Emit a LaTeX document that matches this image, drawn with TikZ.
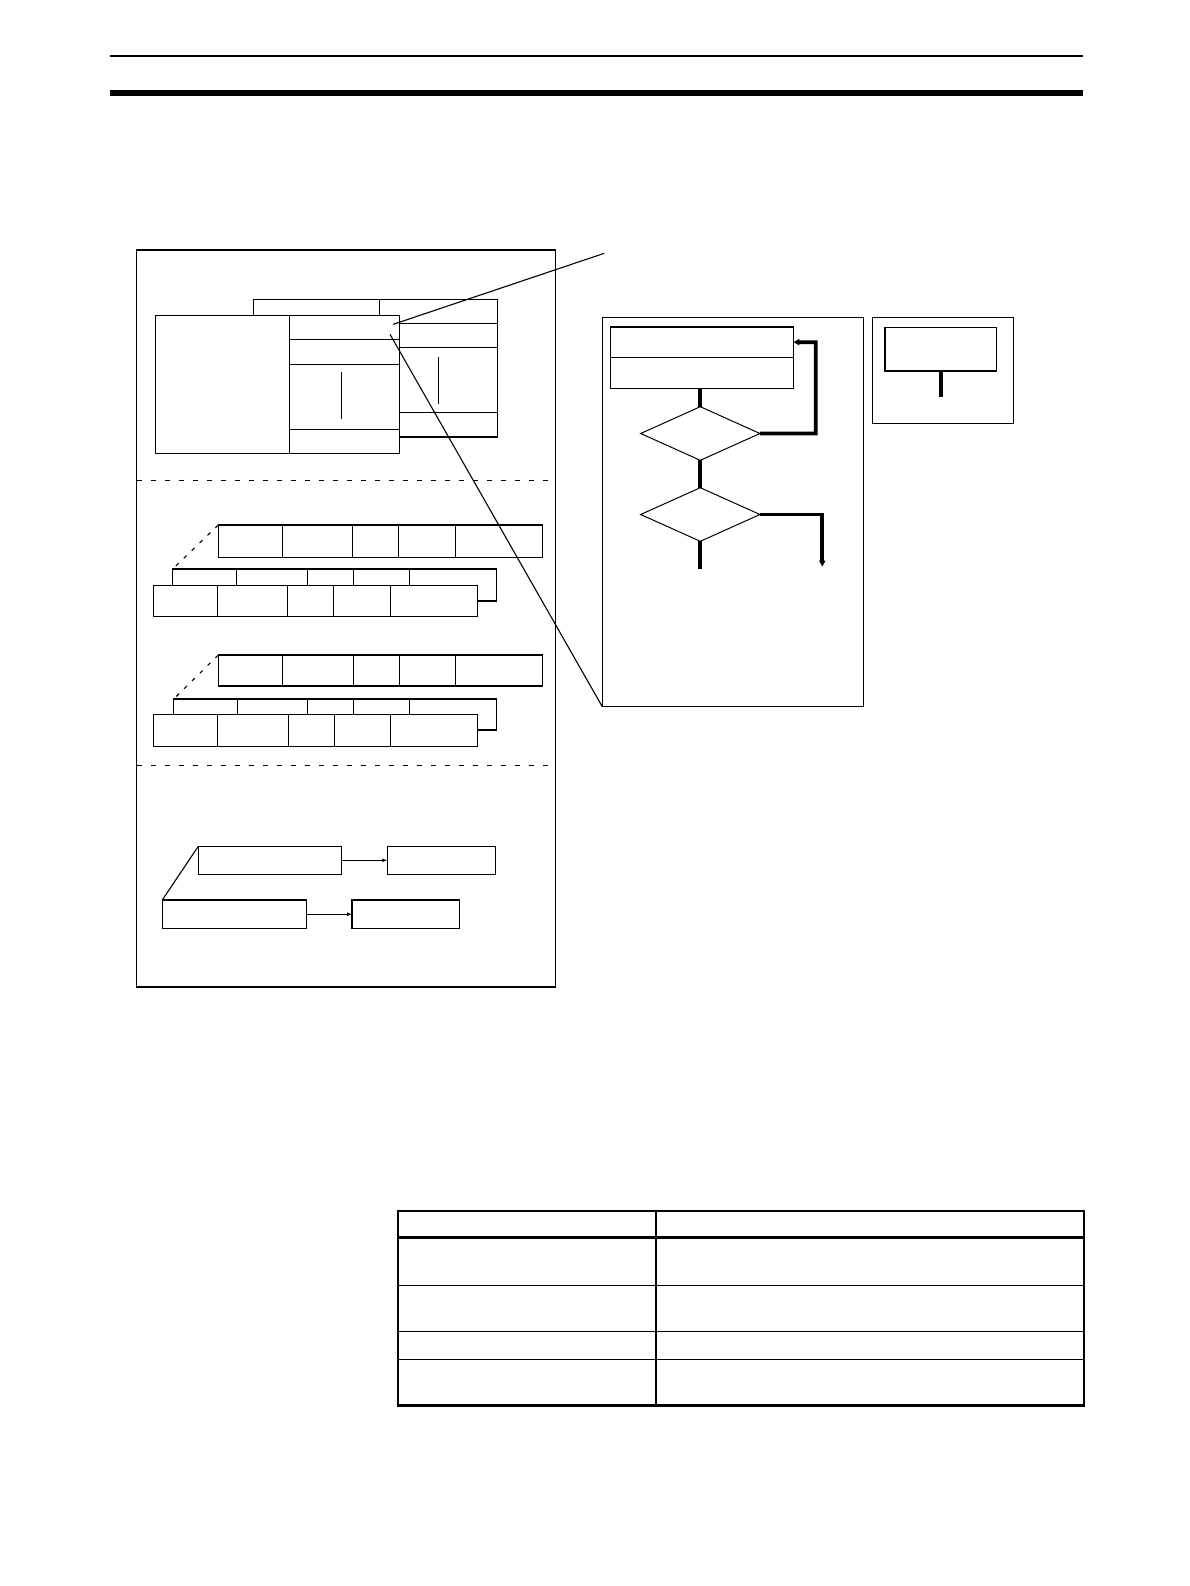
\documentclass[tikz,border=0pt]{standalone}
\usetikzlibrary{shapes.geometric,fit,arrows.meta}
\newcommand{\rbox}[6][]{\node[box,#1,fit={(#3,#4) (#5,#6)}] (#2) {};}
\begin{document}
\begin{tikzpicture}[x=1pt,y=-1pt,
  box/.style={draw, line width=1.2pt, inner sep=0pt, outer sep=0pt, rectangle},
  fineline/.style={line width=1.1pt},
  flowline/.style={line width=3.8pt, draw},
  sepline/.style={line width=1.3pt, dash pattern=on 5pt off 9pt},
  linkdash/.style={line width=1.1pt, dash pattern=on 4pt off 7pt},
  diam/.style={diamond, draw, line width=1pt, inner sep=0pt, outer sep=0pt,
    minimum width=119.3pt, minimum height=53.6pt},
  tip/.style={-{Triangle[length=6pt,width=6pt]}},
  smalltip/.style={-{Latex[length=5pt,width=4pt]}}
]
\useasboundingbox (0,0) rectangle (1190,1586);

% page header rules
\draw[line width=2pt] (110,55.7) -- (1083,55.7);
\fill (110,90) rectangle (1083,95.7);

% left frame
\rbox{frame}{136.7}{250}{555.5}{987}

% top section: back panel
\rbox{bkL}{253.3}{299.3}{379.3}{437}
\rbox{bkR1}{379.3}{299.3}{497.3}{323.3}
\rbox{bkR2}{379.3}{323.3}{497.3}{347.3}
\rbox{bkR3}{379.3}{347.3}{497.3}{412.3}
\rbox{bkR4}{379.3}{412.3}{497.3}{437}
\coordinate (bkv1) at (438.3,357);
\coordinate (bkv2) at (438.3,403.7);
\draw[fineline] (bkv1) -- (bkv2);
% front panel
\rbox[fill=white]{frL}{155.3}{315.3}{289.3}{453.3}
\rbox[fill=white]{frR1}{289.3}{315.3}{399.3}{339.3}
\rbox[fill=white]{frR2}{289.3}{339.3}{399.3}{364.3}
\rbox[fill=white]{frR3}{289.3}{364.3}{399.3}{429.3}
\rbox[fill=white]{frR4}{289.3}{429.3}{399.3}{453.3}
\coordinate (frv1) at (341.3,372.3);
\coordinate (frv2) at (341.3,418.7);
\draw[fineline] (frv1) -- (frv2);

% separators
\draw[sepline] (137,480.3) -- (551.7,480.3);
\draw[sepline] (137,765.7) -- (551.7,765.7);

% rows
\foreach \a/\b/\i in {218.3/282.3/1,282.3/352.3/2,352.3/398.3/3,398.3/455.3/4,455.3/542.3/5}
  \node[box, fit={(\a,525) (\b,557.3)}] (A\i) {};
\foreach \a/\b/\i in {172.7/236.3/1,236.3/307.3/2,307.3/353.3/3,353.3/409.3/4,409.3/496.3/5}
  \node[box, fit={(\a,569) (\b,601)}] (Bb\i) {};
\foreach \a/\b/\i in {153.3/217.3/1,217.3/287.3/2,287.3/333.3/3,333.3/390.3/4,390.3/477.3/5}
  \node[box, fill=white, fit={(\a,585.3) (\b,616.3)}] (Bf\i) {};
\foreach \a/\b/\i in {218.3/282.3/1,282.3/353.3/2,353.3/399.3/3,399.3/455.3/4,455.3/542.3/5}
  \node[box, fit={(\a,655) (\b,686)}] (C\i) {};
\foreach \a/\b/\i in {173.7/237.3/1,237.3/307.3/2,307.3/353.3/3,353.3/409.3/4,409.3/496.3/5}
  \node[box, fit={(\a,699) (\b,730)}] (Db\i) {};
\foreach \a/\b/\i in {153.3/217.3/1,217.3/288.3/2,288.3/334.3/3,334.3/390.3/4,390.3/477.3/5}
  \node[box, fill=white, fit={(\a,714.3) (\b,746.3)}] (Df\i) {};
\draw[linkdash] (A1.north west) -- (Bb1.north west);
\draw[linkdash] (C1.north west) -- (Db1.north west);

% bottom section
\rbox{E1}{198.3}{846.3}{341.7}{874.3}
\rbox{E2}{387.3}{846.3}{495.7}{874.3}
\rbox{F1}{162.3}{900}{306.3}{928.3}
\rbox{F2}{352}{900}{459.7}{928.3}
\draw[fineline, smalltip] (E1.east) -- (E2.west);
\draw[fineline, smalltip] (F1.east) -- (F2.west);
\draw[fineline] (E1.north west) -- (F1.north west);

% flowchart
\rbox{flow}{602.3}{317.3}{863.5}{706.7}
\rbox{P1}{610.7}{327}{793.3}{357.3}
\rbox{P2}{610.7}{357.3}{793.3}{388.3}
\node[diam] (D1) at (700.3,433.5) {};
\node[diam] (D2) at (700.3,514.5) {};
\draw[flowline] (D1.north |- P2.south) -- (D1.north);
\draw[flowline] (D1.south) -- (D2.north);
\coordinate (lp) at (815.7,342.2);
\draw[flowline, tip] (D1.east) -| (lp) -- (P1.east);
\coordinate (dr) at (822.3,566.7);
\draw[flowline, tip] (D2.east) -| (dr);
\coordinate (dd) at (700.3,569.3);
\draw[flowline] (D2.south) -- (dd);

% small frame
\rbox{sf}{872.3}{317.3}{1013.3}{423.3}
\rbox{sfi}{885}{327.3}{996.7}{371}
\draw[flowline] (sfi.south) -- ++(0,26);

% callout lines
\coordinate (ca) at (393.3,324.3);
\coordinate (caend) at (604.3,253.3);
\coordinate (cb) at (390,334.3);
\draw[fineline] (ca) -- (caend);
\draw[fineline] (cb) -- (flow.south west);

% table
\draw[line width=2.8pt] (398,1211) rectangle (1084,1405.7);
\draw[line width=2.5pt] (398,1237.7) -- (1084,1237.7);
\draw[line width=1.3pt] (398,1285.3) -- (1084,1285.3);
\draw[line width=1.3pt] (398,1331.5) -- (1084,1331.5);
\draw[line width=1.3pt] (398,1359.3) -- (1084,1359.3);
\draw[line width=1.3pt] (656,1211) -- (656,1405.7);
\end{tikzpicture}
\end{document}
